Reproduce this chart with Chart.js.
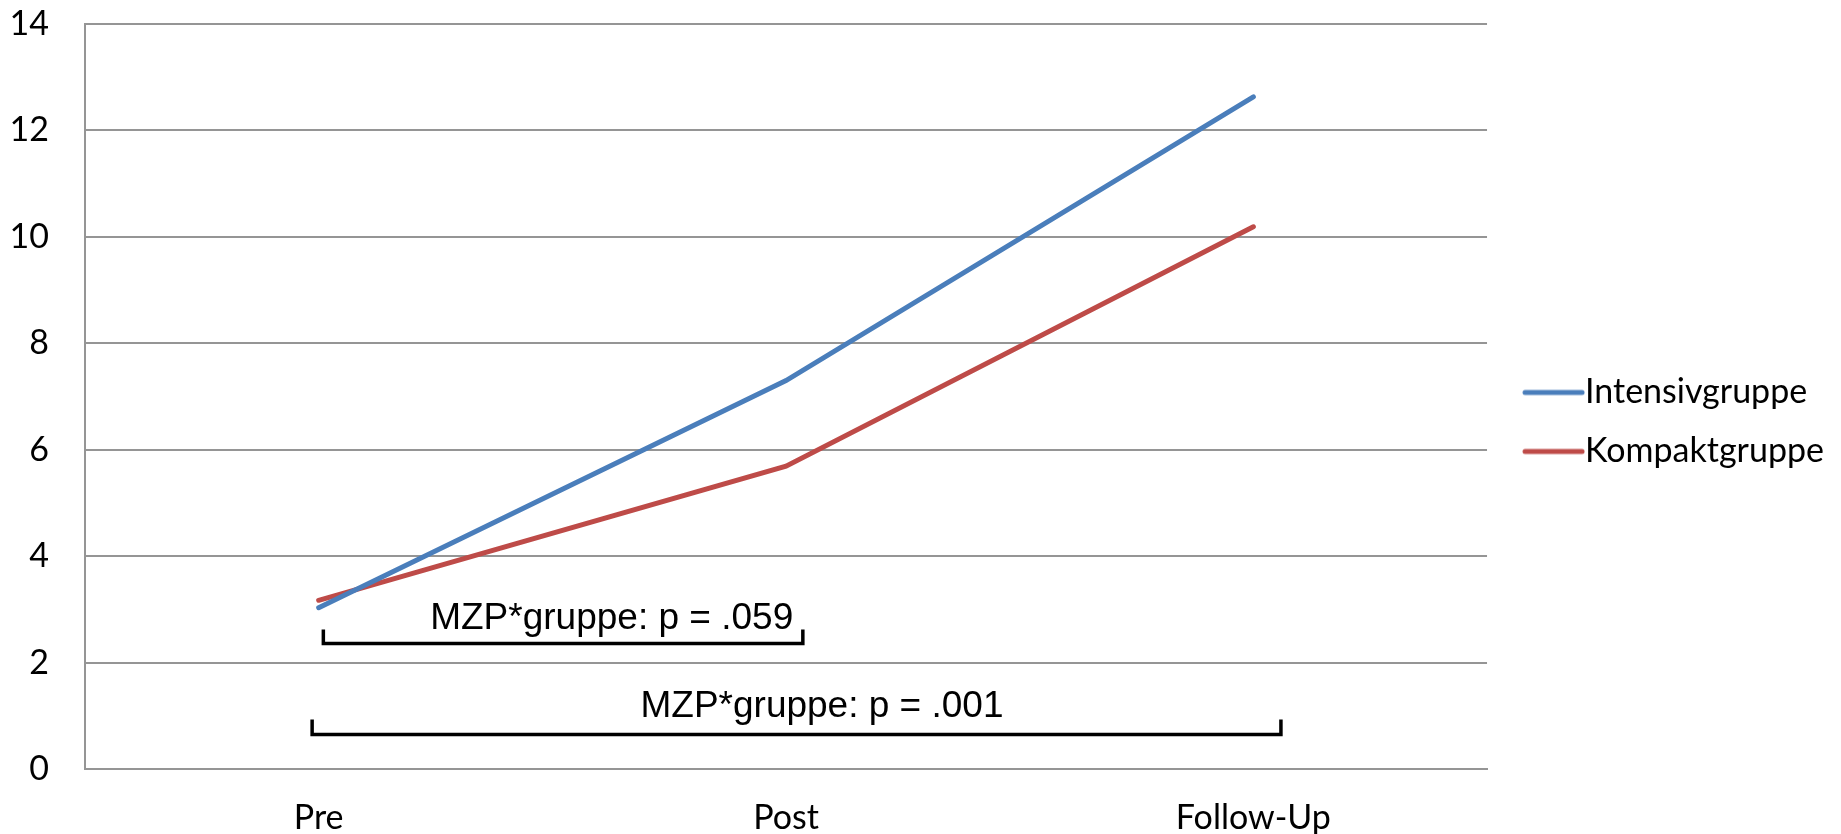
<html><head>
<meta charset="UTF-8">
<title>MZP*gruppe</title>
<script src="https://cdn.jsdelivr.net/npm/chart.js"></script>
<style>
  html, body { margin: 0; padding: 0; background: #fff; }
  #wrap { width: 1841px; height: 834px; }
</style>
</head>
<body>
<div id="wrap"><canvas id="chart"></canvas></div>
<script>
// data
const categories = ['Pre', 'Post', 'Follow-Up'];
const intensiv = [3.03, 7.30, 12.63];
const kompakt = [3.17, 5.69, 10.19];
const yTicks = [0, 2, 4, 6, 8, 10, 12, 14];
const seriesNames = ['Intensivgruppe', 'Kompaktgruppe'];
const seriesColors = ['#4a7ebb', '#be4b48'];

// significance brackets, in data units (category index, y value)
const bracketLabels = ['MZP*gruppe: p = .059', 'MZP*gruppe: p = .001'];
const bracketFrom = [0.01, -0.014];
const bracketTo = [1.036, 2.059];
const bracketTop = [2.62, 0.93];
const bracketBottom = [2.36, 0.65];
const labelX = [0.627, 1.077];
const labelY = [2.64, 0.98];

const gridColor = '#959595';
const tickFont = { family: 'Lato', size: 34 };

// legend swatch: line drawn into a wider image so it sits close to the text
function swatch(color) {
  const c = document.createElement('canvas');
  c.width = 90; c.height = 10;
  const g = c.getContext('2d');
  g.strokeStyle = color; g.lineWidth = 5; g.lineCap = 'round';
  g.beginPath(); g.moveTo(30, 5); g.lineTo(87, 5); g.stroke();
  return c;
}

const brackets = {
  id: 'brackets',
  afterLayout(chart) {
    // nudge the legend block up a little
    chart.legend.bottom -= 14;
  },
  afterDatasetsDraw(chart) {
    const { ctx, scales: { x, y } } = chart;
    ctx.save();
    ctx.strokeStyle = '#000';
    ctx.lineWidth = 3.5;
    ctx.lineJoin = 'miter';
    for (let i = 0; i < bracketLabels.length; i++) {
      const x0 = x.getPixelForValue(bracketFrom[i]);
      const x1 = x.getPixelForValue(bracketTo[i]);
      const yt = y.getPixelForValue(bracketTop[i]);
      const yb = y.getPixelForValue(bracketBottom[i]);
      ctx.beginPath();
      ctx.moveTo(x0, yt); ctx.lineTo(x0, yb); ctx.lineTo(x1, yb); ctx.lineTo(x1, yt);
      ctx.stroke();
      ctx.fillStyle = '#000';
      ctx.font = '37px "Liberation Sans", Arial, sans-serif';
      ctx.textAlign = 'center';
      ctx.textBaseline = 'alphabetic';
      ctx.fillText(bracketLabels[i], x.getPixelForValue(labelX[i]), y.getPixelForValue(labelY[i]));
    }
    ctx.restore();
  }
};

new Chart(document.getElementById('chart'), {
  type: 'line',
  data: {
    labels: categories,
    datasets: [
      { label: seriesNames[0], data: intensiv, borderColor: seriesColors[0], backgroundColor: seriesColors[0],
        borderWidth: 5, pointRadius: 0, pointHoverRadius: 0, tension: 0, borderCapStyle: 'round',
        pointStyle: swatch(seriesColors[0]) },
      { label: seriesNames[1], data: kompakt, borderColor: seriesColors[1], backgroundColor: seriesColors[1],
        borderWidth: 5, pointRadius: 0, pointHoverRadius: 0, tension: 0, borderCapStyle: 'round',
        pointStyle: swatch(seriesColors[1]) }
    ]
  },
  options: {
    responsive: true,
    maintainAspectRatio: false,
    animation: false,
    layout: { padding: { top: 24, left: 0, right: 7, bottom: 0 } },
    plugins: {
      tooltip: { enabled: false },
      legend: {
        position: 'right',
        labels: {
          usePointStyle: true,
          pointStyleWidth: 56,
          padding: 25,
          color: '#000',
          font: tickFont
        }
      }
    },
    scales: {
      x: {
        offset: true,
        grid: { display: false, drawTicks: false },
        border: { display: true, color: gridColor, width: 2 },
        ticks: { color: '#000', font: tickFont, padding: 29, maxRotation: 0 },
        afterFit(scale) { scale.height = 65; }
      },
      y: {
        min: 0,
        max: 14,
        afterBuildTicks(scale) { scale.ticks = yTicks.map(v => ({ value: v })); },
        grid: { color: gridColor, lineWidth: 2, drawTicks: false },
        border: { display: true, color: gridColor, width: 2 },
        ticks: { color: '#000', font: tickFont, padding: 36 },
        afterFit(scale) {
          scale.width = 85;
          scale.paddingTop = 0;
          scale.paddingBottom = 0;
        }
      }
    }
  },
  plugins: [brackets]
});
</script>
</body></html>
